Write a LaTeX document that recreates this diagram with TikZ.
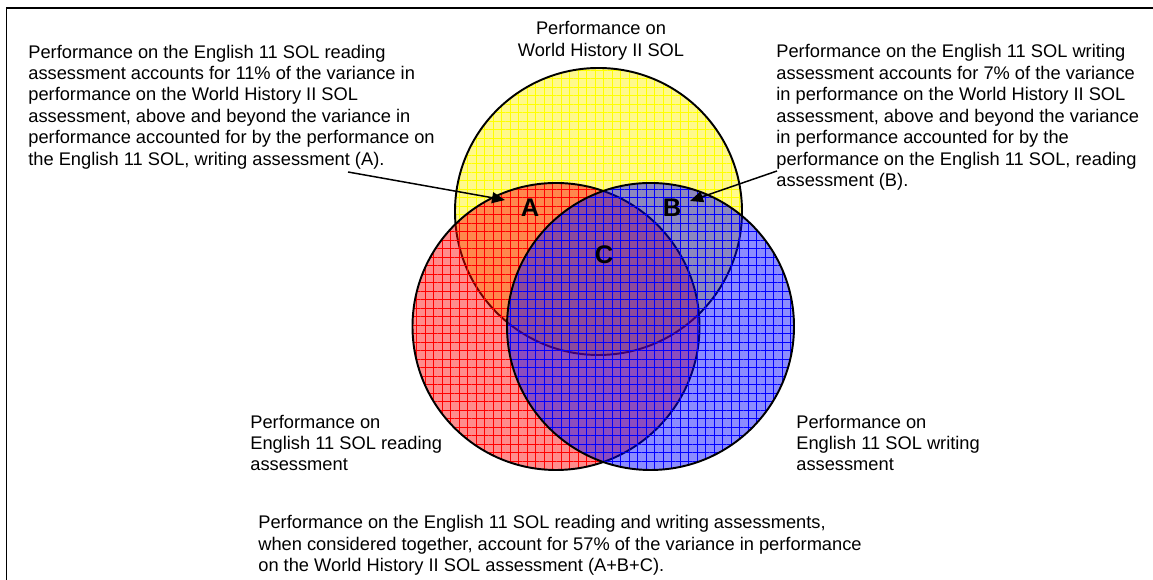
\documentclass[tikz,border=0pt]{standalone}
\usepackage{fontspec}
\setmainfont{Liberation Sans}
\usetikzlibrary{arrows.meta,patterns.meta}

\newcommand{\blurbfont}{\fontsize{10.4}{12.2}\selectfont}

\tikzset{
  blurb/.style={align=left, inner sep=0pt, anchor=west, font=\blurbfont},
  region/.style={font=\fontsize{14.5}{16}\selectfont\bfseries},
  venn/.style={preaction={fill=#1, fill opacity=0.45},
    pattern={Hatch[angle=0,distance=0.17cm,line width=0.3pt]}, pattern color=#1,
    fill opacity=0.55, draw=black, line width=1.1pt},
  pointer/.style={-{Triangle[length=0.26cm,width=0.22cm]}, line width=0.85pt},
}

\begin{document}
\begin{tikzpicture}[x=0.02cm, y=0.02cm]
\useasboundingbox (0,0) rectangle (1153,580);
\draw[line width=1.13pt] (6.5,0) |- (1153,571.7);

% the three sets
\coordinate (hist) at (598.5,368.5);
\coordinate (read) at (556,253.5);
\coordinate (write) at (650.5,253.5);
\draw[venn=yellow] (hist) circle[radius=143.5];
\draw[venn=red] (read) circle[radius=143.5];
\draw[venn=blue] (write) circle[radius=143.5];

\node[region] (A) at (530,372) {A};
\node[region] (B) at (672,372) {B};
\node[region] (C) at (604,325) {C};

\node[align=center, inner sep=0pt, font=\blurbfont] (histlbl) at (601,539)
  {Performance on\\World History II SOL};
\node[blurb] (readlbl) at (250,137) {Performance on\\English 11 SOL reading\\assessment};
\node[blurb] (writelbl) at (796,137) {Performance on\\English 11 SOL writing\\assessment};

\node[blurb] (readtxt) at (28,473) {Performance on the English 11 SOL reading\\
  assessment accounts for 11\% of the variance in\\
  performance on the World History II SOL\\
  assessment, above and beyond the variance in\\
  performance accounted for by the performance on\\
  the English 11 SOL, writing assessment (A).};
\node[blurb] (writetxt) at (776,462.5) {Performance on the English 11 SOL writing\\
  assessment accounts for 7\% of the variance\\
  in performance on the World History II SOL\\
  assessment, above and beyond the variance\\
  in performance accounted for by the\\
  performance on the English 11 SOL, reading\\
  assessment (B).};
\node[blurb] (total) at (258,34.5) {Performance on the English 11 SOL reading and writing assessments,\\
  when considered together, account for 57\% of the variance in performance\\
  on the World History II SOL assessment (A+B+C).};

% pointers into A and B
\coordinate (fromA) at (348,408);
\coordinate (tipA) at (505,380);
\coordinate (fromB) at (777,409);
\coordinate (tipB) at (690,379);
\draw[pointer] (fromA) -- (tipA);
\draw[pointer] (fromB) -- (tipB);
\end{tikzpicture}
\end{document}
